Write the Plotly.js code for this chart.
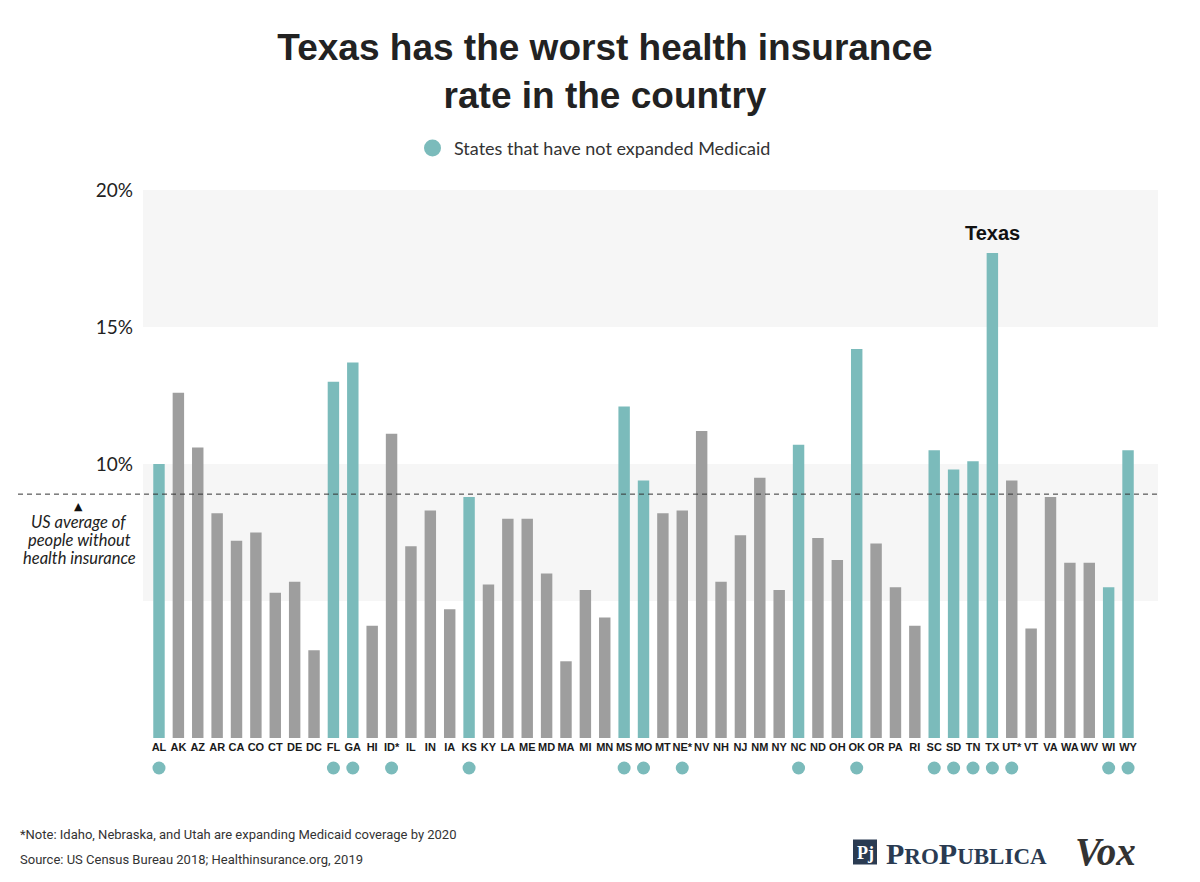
<!DOCTYPE html>
<html>
<head>
<meta charset="utf-8">
<script src="https://cdn.plot.ly/plotly-3.0.1.min.js"></script>
<style>
  html, body { margin: 0; padding: 0; background: #ffffff; }
  #chart { width: 1200px; height: 882px; }
</style>
</head>
<body>
<div id="chart"></div>
<script>
// ---- Data ----
const states = ["AL","AK","AZ","AR","CA","CO","CT","DE","DC","FL","GA","HI","ID*","IL","IN","IA","KS","KY","LA","ME","MD","MA","MI","MN","MS","MO","MT","NE*","NV","NH","NJ","NM","NY","NC","ND","OH","OK","OR","PA","RI","SC","SD","TN","TX","UT*","VT","VA","WA","WV","WI","WY"];
const uninsuredPct = [10.0,12.6,10.6,8.2,7.2,7.5,5.3,5.7,3.2,13.0,13.7,4.1,11.1,7.0,8.3,4.7,8.8,5.6,8.0,8.0,6.0,2.8,5.4,4.4,12.1,9.4,8.2,8.3,11.2,5.7,7.4,9.5,5.4,10.7,7.3,6.5,14.2,7.1,5.5,4.1,10.5,9.8,10.1,17.7,9.4,4.0,8.8,6.4,6.4,5.5,10.5];
const notExpanded = ["AL","FL","GA","ID*","KS","MS","MO","NE*","NC","OK","SC","SD","TN","TX","UT*","WI","WY"];
const expandingBy2020 = ["ID*","NE*","UT*"];
const usAverage = 8.9;
const yTickVals = [10, 15, 20];
const yTickText = ["10%", "15%", "20%"];
const bands = [[15, 20], [5, 10]];

// ---- Styles ----
const TEAL = "#7bbbbb";
const GRAY = "#9e9e9e";
const BAND = "#f6f6f6";

// plot-area pixels: x 143..1158; bars y 190..738; dot strip 738..785
const PL = 143, PR = 1158, PT = 190, PBAR = 738, PB = 785;
const px = v => (v - PL) / (PR - PL);
const py = v => (PB - v) / (PB - PT);
const DOT_Y = (PB - 768) / (PB - PBAR);   // position inside dot strip (0..1)

const barColors = states.map(s =>
  (notExpanded.includes(s) && !expandingBy2020.includes(s)) ? TEAL : GRAY);

const barTrace = {
  type: "bar",
  x: states,
  y: uninsuredPct,
  xaxis: "x", yaxis: "y",
  marker: { color: barColors, line: { width: 0 } },
  hovertemplate: "%{x}: %{y:.1f}%<extra></extra>",
  showlegend: false
};

const dotTrace = {
  type: "scatter",
  mode: "markers",
  x: notExpanded,
  y: notExpanded.map(() => DOT_Y),
  xaxis: "x", yaxis: "y2",
  marker: { color: TEAL, size: 13, line: { width: 0 } },
  cliponaxis: false,
  hoverinfo: "skip",
  showlegend: false
};

const shapes = [];
bands.forEach(b => shapes.push({
  type: "rect", xref: "paper", yref: "y", x0: 0, x1: 1, y0: b[0], y1: b[1],
  fillcolor: BAND, line: { width: 0 }, layer: "below"
}));
shapes.push({
  type: "line", xref: "paper", yref: "y", x0: px(18), x1: 1, y0: usAverage, y1: usAverage,
  line: { color: "#333333", width: 1, dash: "5px,4px" }, layer: "above"
});
// legend circle
shapes.push({
  type: "circle", xref: "paper", yref: "paper", xsizemode: "pixel", ysizemode: "pixel",
  xanchor: px(432.5), yanchor: py(148), x0: -8.5, x1: 8.5, y0: -8.5, y1: 8.5,
  fillcolor: TEAL, line: { width: 0 }
});
// ProPublica icon square
shapes.push({
  type: "rect", xref: "paper", yref: "paper", xsizemode: "pixel", ysizemode: "pixel",
  xanchor: px(865), yanchor: py(852), x0: -12, x1: 12, y0: -12.5, y1: 12.5,
  fillcolor: "#2a3b52", line: { width: 0 }
});

const noteFont = { family: "Roboto, 'Liberation Sans', sans-serif", size: 13, color: "#333333" };
const avgFont = { family: "Lato, 'Open Sans', sans-serif", size: 16.5, color: "#222222" };

const annotations = [
  {
    xref: "paper", yref: "paper", x: px(452), y: py(148), xanchor: "left", yanchor: "middle",
    text: "States that have not expanded Medicaid", showarrow: false,
    font: { family: "Lato, 'Open Sans', sans-serif", size: 18, color: "#333333" }
  },
  {
    xref: "x", yref: "y", x: "TX", y: uninsuredPct[states.indexOf("TX")],
    xanchor: "center", yanchor: "bottom", yshift: 7,
    text: "<b>Texas</b>", showarrow: false,
    font: { family: "'Liberation Sans', Arial, sans-serif", size: 20, color: "#111111" }
  },
  {
    xref: "paper", yref: "paper", x: px(78), y: py(506), xanchor: "center", yanchor: "middle",
    text: "▲", showarrow: false,
    font: { family: "'DejaVu Sans', sans-serif", size: 11, color: "#111111" }
  },
  {
    xref: "paper", yref: "paper", x: px(79), y: py(522), xanchor: "center", yanchor: "middle",
    text: "<i>US average of</i>", showarrow: false, font: avgFont
  },
  {
    xref: "paper", yref: "paper", x: px(79), y: py(540), xanchor: "center", yanchor: "middle",
    text: "<i>people without</i>", showarrow: false, font: avgFont
  },
  {
    xref: "paper", yref: "paper", x: px(79), y: py(558), xanchor: "center", yanchor: "middle",
    text: "<i>health insurance</i>", showarrow: false, font: avgFont
  },
  {
    xref: "paper", yref: "paper", x: px(18), y: py(834), xanchor: "left", yanchor: "middle",
    text: "*Note: Idaho, Nebraska, and Utah are expanding Medicaid coverage by 2020", showarrow: false,
    font: noteFont
  },
  {
    xref: "paper", yref: "paper", x: px(18), y: py(859), xanchor: "left", yanchor: "middle",
    text: "Source: US Census Bureau 2018; Healthinsurance.org, 2019", showarrow: false,
    font: noteFont
  },
  {
    xref: "paper", yref: "paper", x: px(865), y: py(853), xanchor: "center", yanchor: "middle",
    text: "<b>Pj</b>", showarrow: false,
    font: { family: "'Liberation Serif', serif", size: 18, color: "#ffffff" }
  },
  {
    xref: "paper", yref: "paper", x: px(884), y: py(853), xanchor: "left", yanchor: "middle",
    text: "<b>P<span style='font-size:23px'>RO</span>P<span style='font-size:23px'>UBLICA</span></b>", showarrow: false,
    font: { family: "'Liberation Serif', serif", size: 30, color: "#2a3b52" }
  },
  {
    xref: "paper", yref: "paper", x: px(1073), y: py(851), xanchor: "left", yanchor: "middle",
    text: "<b><i>Vox</i></b>", showarrow: false,
    font: { family: "'Liberation Serif', serif", size: 39, color: "#333333" }
  }
];

const layout = {
  width: 1200, height: 882,
  margin: { l: PL, r: 1200 - PR, t: PT, b: 882 - PB, pad: 0 },
  paper_bgcolor: "#ffffff", plot_bgcolor: "rgba(0,0,0,0)",
  title: {
    text: "<b>Texas has the worst health insurance<br>rate in the country</b>",
    xref: "container", yref: "container", x: 605 / 1200, y: 1 - 60 / 882,
    xanchor: "center", yanchor: "middle",
    font: { family: "'Liberation Sans', Arial, sans-serif", size: 37, color: "#222222" }
  },
  bargap: 0.41,
  showlegend: false,
  xaxis: {
    type: "category",
    anchor: "y",
    range: [-0.825, 51.546],
    showgrid: false, zeroline: false, showline: false, ticks: "",
    tickangle: 0,
    ticklabelstandoff: 1,
    tickfont: { family: "'Liberation Sans', Arial, sans-serif", size: 11, color: "#1a1a1a", weight: "bold" },
    fixedrange: true
  },
  yaxis: {
    domain: [(PB - PBAR) / (PB - PT), 1],
    range: [0, 20],
    tickvals: yTickVals, ticktext: yTickText,
    showgrid: false, zeroline: false, showline: false, ticks: "",
    ticklabelstandoff: 9,
    tickfont: { family: "Lato, 'Open Sans', sans-serif", size: 19, color: "#222222" },
    fixedrange: true
  },
  yaxis2: {
    domain: [0, (PB - PBAR) / (PB - PT)],
    range: [0, 1],
    anchor: "x",
    showgrid: false, zeroline: false, showline: false, ticks: "", showticklabels: false,
    fixedrange: true
  },
  shapes: shapes,
  annotations: annotations
};

Plotly.newPlot("chart", [barTrace, dotTrace], layout, { displayModeBar: false, staticPlot: true });
</script>
</body>
</html>
